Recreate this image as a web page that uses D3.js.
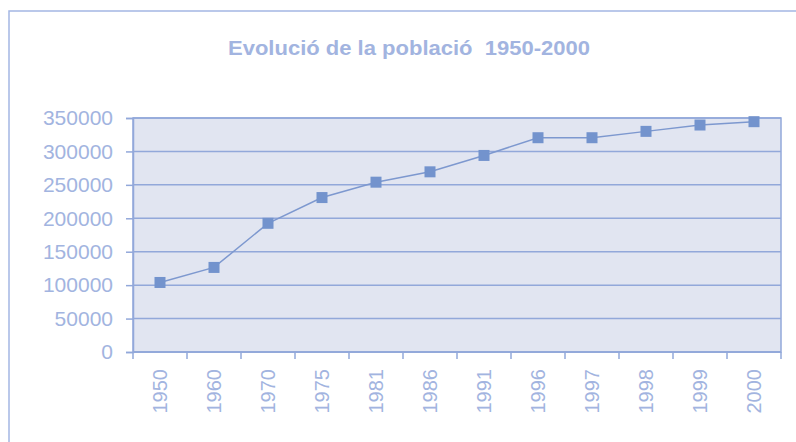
<!DOCTYPE html>
<html>
<head>
<meta charset="utf-8">
<script src="https://cdn.jsdelivr.net/npm/d3@7"></script>
<style>
  body { margin: 0; background: #fff; }
  svg { display: block; font-family: "Liberation Sans", Arial, sans-serif; }
</style>
</head>
<body>
<svg id="chart"></svg>
<script>
const years = ["1950", "1960", "1970", "1975", "1981", "1986", "1991", "1996", "1997", "1998", "1999", "2000"];
const population = [104000, 126500, 192500, 231000, 254000, 269500, 294000, 320500, 320500, 330000, 339500, 344500];
const yTicks = [0, 50000, 100000, 150000, 200000, 250000, 300000, 350000];

const width = 796;
const height = 442;
const margin = { top: 118, right: 15, bottom: 90, left: 133 };

const textColor = "#a2b4e0";
const gridColor = "#92a8da";
const markColor = "#7393cd";

const svg = d3.select("#chart").attr("width", width).attr("height", height);

// outer chart border (only left and top are visible in the crop)
svg.append("rect")
  .attr("x", 9).attr("y", 11)
  .attr("width", width + 20).attr("height", height + 20)
  .attr("fill", "none")
  .attr("stroke", "#a4b7e4")
  .attr("stroke-width", 1.5);

svg.append("text")
  .attr("x", 409).attr("y", 55)
  .attr("text-anchor", "middle")
  .attr("font-size", "21px")
  .attr("font-weight", "bold")
  .attr("fill", textColor)
  .attr("textLength", 362)
  .attr("lengthAdjust", "spacingAndGlyphs")
  .attr("xml:space", "preserve")
  .text("Evolució de la població  1950-2000");

const x = d3.scaleBand().domain(years).range([margin.left, width - margin.right]);
const y = d3.scaleLinear().domain([0, 350000]).range([height - margin.bottom, margin.top]);

// plot background
svg.append("rect")
  .attr("x", margin.left).attr("y", margin.top)
  .attr("width", x.range()[1] - margin.left)
  .attr("height", y(0) - margin.top)
  .attr("fill", "#e1e5f1")
  .attr("stroke", gridColor)
  .attr("stroke-width", 1.5);

// horizontal gridlines
svg.append("g")
  .selectAll("line")
  .data(yTicks)
  .join("line")
  .attr("x1", margin.left).attr("x2", x.range()[1])
  .attr("y1", d => y(d)).attr("y2", d => y(d))
  .attr("stroke", gridColor)
  .attr("stroke-width", 1.5);

// y axis
const yAxis = svg.append("g")
  .attr("transform", `translate(${margin.left},0)`)
  .call(d3.axisLeft(y).tickValues(yTicks).tickFormat(d3.format("d")).tickSize(7).tickPadding(13));
yAxis.select(".domain").attr("stroke", gridColor).attr("stroke-width", 1.5);
yAxis.selectAll(".tick line").attr("stroke", gridColor).attr("stroke-width", 1.5);
yAxis.selectAll("text")
  .attr("fill", textColor)
  .attr("font-size", "21px")
  .attr("font-family", "Liberation Sans, Arial, sans-serif");

// x axis: ticks between categories
const boundaries = years.map(d => x(d)).concat([x.range()[1]]);
const xAxisG = svg.append("g").attr("transform", `translate(0,${y(0)})`);
xAxisG.append("line")
  .attr("x1", margin.left).attr("x2", x.range()[1])
  .attr("stroke", gridColor).attr("stroke-width", 1.5);
xAxisG.selectAll(".tk")
  .data(boundaries)
  .join("line")
  .attr("class", "tk")
  .attr("x1", d => d).attr("x2", d => d)
  .attr("y1", 0).attr("y2", 7)
  .attr("stroke", gridColor).attr("stroke-width", 1.5);
xAxisG.selectAll(".lbl")
  .data(years)
  .join("text")
  .attr("class", "lbl")
  .attr("transform", d => `translate(${x(d) + x.bandwidth() / 2 + 7},17) rotate(-90)`)
  .attr("text-anchor", "end")
  .attr("font-size", "20px")
  .attr("fill", textColor)
  .text(d => d);

// line + markers
const pts = years.map((d, i) => ({ year: d, value: population[i] }));
svg.append("path")
  .datum(pts)
  .attr("fill", "none")
  .attr("stroke", "#7d98cf")
  .attr("stroke-width", 1.5)
  .attr("d", d3.line()
    .x(d => x(d.year) + x.bandwidth() / 2)
    .y(d => y(d.value)));

svg.append("g")
  .selectAll("rect")
  .data(pts)
  .join("rect")
  .attr("x", d => x(d.year) + x.bandwidth() / 2 - 5.5)
  .attr("y", d => y(d.value) - 5.5)
  .attr("width", 11).attr("height", 11)
  .attr("fill", markColor);
</script>
</body>
</html>
